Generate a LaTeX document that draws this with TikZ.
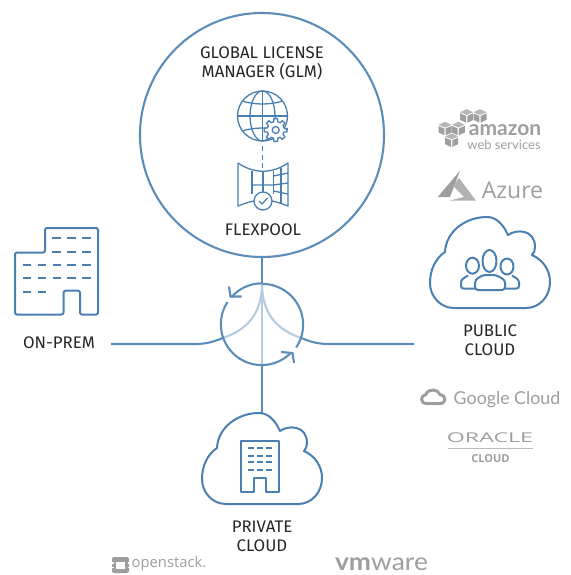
\documentclass[tikz,border=0pt]{standalone}
\usepackage{fontspec}
\setmainfont{Fira Sans}
\newfontfamily\logofont{Lato}
\newfontfamily\cloudfont{Open Sans}
\definecolor{lineblue}{HTML}{5B8DB8}
\definecolor{iconblue}{HTML}{4A7FB2}
\definecolor{paleblue}{HTML}{B5CCE0}
\definecolor{logogray}{HTML}{9C9EA0}
\tikzset{
	labeltext/.style={inner sep=0pt, align=center, text=black!85, font=\fontsize{16.8}{19}\selectfont},
	ringline/.style={draw=lineblue, line width=2.1pt},
	paleline/.style={draw=paleblue, line width=2.1pt},
	iconline/.style={draw=iconblue, line width=2pt, line join=round},
	thinline/.style={draw=iconblue, line width=1.3pt, line join=round},
	roomdash/.style={draw=iconblue, line width=2pt, dash pattern=on 8.7pt off 6.2pt},
	towerdash/.style={draw=iconblue, line width=1.8pt, dash pattern=on 6pt off 2.7pt},
	logotext/.style={inner sep=0pt, text=logogray}
}
\newcommand{\cloudicon}[2]{
	\draw[iconline, shift={(#1,#2)}] (-36,91) .. controls (-50,91) and (-60,79) .. (-60,66) .. controls (-60,52) and (-54,41) .. (-45,35) .. controls (-44,14) and (-24,0) .. (-3,0) .. controls (6,0) and (13,7) .. (18,18) .. controls (26,12) and (45,12) .. (45,30) .. controls (45,33) and (44,36) .. (42,38) .. controls (53,43) and (60,53) .. (60,65) .. controls (60,79) and (50,91) .. (36,91) -- cycle;
}
\newcommand{\awscube}[2]{
	\fill[logogray!75, shift={(#1,#2)}] (-6.5,-3.5) -- (0,-6.5) -- (6.5,-3.5) -- (0,-0.8) -- cycle;
	\fill[logogray, shift={(#1,#2)}] (-6.5,-2.3) -- (-0.6,0.2) -- (-0.6,7) -- (-6.5,4.2) -- cycle;
	\fill[logogray, shift={(#1,#2)}] (6.5,-2.3) -- (0.6,0.2) -- (0.6,7) -- (6.5,4.2) -- cycle;
}
\begin{document}
\begin{tikzpicture}[x=1pt,y=-1pt]

	\useasboundingbox (0,0) rectangle (570,575);

	%HUB AND MANAGER
	\node[circle, ringline, fill=white, inner sep=0pt, minimum size=244pt] (glm) at (262,135) {};
	\node[circle, inner sep=0pt, minimum size=82pt] (hub) at (262,324.5) {};
	\coordinate (onprem) at (111,344);
	\coordinate (public) at (414,344);
	\coordinate (private) at (262,413);

	%CONNECTORS
	\draw[paleline] (hub.north) -- (hub.south);
	\draw[paleline] (hub.north) .. controls (262,315) and (246,330) .. (hub.199);
	\draw[paleline] (hub.north) .. controls (262,315) and (278,330) .. (hub.341);
	\draw[ringline] (glm.south) -- (hub.north);
	\draw[ringline] (hub.south) -- (private);
	\draw[ringline] (hub.199) .. controls (214,341.5) and (207,344) .. (195,344) -- (onprem);
	\draw[ringline] (hub.341) .. controls (310,341.5) and (317,344) .. (329,344) -- (public);

	%HUB ARROWS
	\draw[ringline] (hub.90) arc[start angle=-90, end angle=-139, radius=40.8];
	\draw[ringline] (hub.147) arc[start angle=-147, end angle=-316, radius=40.8];
	\draw[ringline] (hub.326) arc[start angle=-326, end angle=-450, radius=40.8];
	\draw[ringline] (229,286.5) -- (230.5,296.5) -- (241.5,296.5);
	\draw[ringline] (281,352) -- (292.5,353) -- (294,363);

	%GLOBE
	\draw[thinline] (262.5,116) circle (25);
	\draw[thinline] (262.5,116) ellipse (12.5 and 25);
	\draw[thinline] (262.5,91) -- (262.5,141);
	\draw[thinline] (237.5,116) -- (287.5,116);
	\draw[thinline] (242,101) .. controls (255,105) and (270,105) .. (283,101);
	\draw[thinline] (242,131) .. controls (255,127) and (270,127) .. (283,131);
	\draw[thinline, fill=white, shift={(275.7,130)}] (0:11.5)
		\foreach \a in {0,45,...,315} { -- (\a-9:11.5) -- (\a+9:11.5) -- (\a+14:8.5) -- (\a+31:8.5) } -- cycle;
	\draw[thinline] (275.7,130) circle (3.5);
	\draw[thinline, dash pattern=on 5pt off 3.5pt] (262.5,146) -- (262.5,170);

	%POOL
	\draw[thinline] (238,163) .. controls (254,174) and (272,174) .. (288,163) -- (288,206) .. controls (283,204) and (277,202) .. (272,201);
	\draw[thinline] (238,163) -- (238,206) .. controls (243,204) and (249,202) .. (254,201);
	\draw[thinline] (252,171) -- (252,194);
	\draw[thinline] (263,172) -- (263,192);
	\draw[thinline] (273.5,171) -- (273.5,194);
	\draw[thinline] (281,168) -- (281,204);
	\draw[thinline] (252,185) -- (273.5,185) -- (288,183);
	\draw[thinline] (273.5,176) -- (288,173);
	\draw[thinline] (273.5,191) -- (288,194);
	\draw[thinline] (263,201) circle (9);
	\draw[thinline] (259,201) -- (262,204) -- (267.5,198);

	%ON-PREM
	\draw[iconline, rounded corners=2pt] (15,314.5) -- (15,252.5) -- (45,252.5) -- (45,228) -- (98,228) -- (98,314.5) -- (80,314.5) -- (80,290.7) -- (63.5,290.7) -- (63.5,314.5) -- cycle;
	\draw[roomdash] (52.3,238.3) -- (91,238.3);
	\draw[roomdash] (52.3,251.7) -- (91,251.7);
	\draw[roomdash] (22.7,265) -- (91,265);
	\draw[roomdash] (22.7,278.3) -- (91,278.3);
	\draw[roomdash] (22.7,291.7) -- (47,291.7);

	%PRIVATE CLOUD
	\cloudicon{262}{413}
	\draw[iconline] (241,492.3) -- (241,440.7) -- (279,440.7) -- (279,492.3) -- (265.7,492.3) -- (265.7,478.3) -- (254,478.3) -- (254,492.3) -- cycle;
	\foreach \yRow in {448.3,455.7,462.3,470} {
		\draw[towerdash] (248.3,\yRow) -- (272,\yRow);
	}

	%PUBLIC CLOUD
	\cloudicon{490}{217}
	\draw[iconline] (489.5,261) ellipse (7 and 11);
	\draw[iconline] (472.5,265.7) ellipse (6.5 and 8);
	\draw[iconline] (507,266.5) ellipse (6.5 and 8);
	\draw[iconline, fill=white, rounded corners=3pt] (475,290) -- (475,280) -- (483,275) -- (496,275) -- (505,280) -- (505,290) -- cycle;
	\draw[iconline, rounded corners=2.5pt] (475,288.5) -- (461,288.5) -- (461,280) -- (468,275.5);
	\draw[iconline, rounded corners=2.5pt] (505,288.5) -- (519,288.5) -- (519,280) -- (512,275.5);

	%LABELS
	\node[labeltext] (glmlabel) at (262,63.5) {GLOBAL LICENSE\\MANAGER (GLM)};
	\node[labeltext] (flexlabel) at (263,230) {FLEXPOOL};
	\node[labeltext] (onpremlabel) at (59,342.5) {ON-PREM};
	\node[labeltext] (publiclabel) at (490,340) {PUBLIC\\CLOUD};
	\node[labeltext] (privatelabel) at (262,536.5) {PRIVATE\\CLOUD};

	%AMAZON
	\awscube{466.7}{115.7}
	\awscube{480}{115.7}
	\awscube{445}{128.3}
	\awscube{458.3}{128.3}
	\awscube{451.7}{140}
	\node[logotext, anchor=base, font=\logofont\bfseries\fontsize{21}{21}\selectfont] (amazonlogo) at (505,135.5) {amazon};
	\node[logotext, anchor=base, font=\logofont\fontsize{13}{13}\selectfont] (awslogo) at (504,149.5) {web services};

	%AZURE
	\fill[logogray] (460,170.7) -- (437.7,197) -- (450,197) -- cycle;
	\fill[logogray!80] (459,178) -- (476,200.7) -- (449,200.7) -- (464,197) -- (453,186) -- cycle;
	\node[logotext, font=\cloudfont\fontsize{23}{23}\selectfont] (azurelogo) at (512.5,190) {Azure};

	%GOOGLE
	\draw[logogray, line width=3pt, line join=round] (426.5,403.5) .. controls (420,403.5) and (420,395.5) .. (426,394.5) .. controls (428,388) and (438,389) .. (440,394.5) .. controls (446,394.5) and (447,403.5) .. (440,403.5) -- cycle;
	\node[logotext, font=\logofont\fontsize{17.8}{18}\selectfont] (googlelogo) at (507,399.5) {Google Cloud};

	%ORACLE
	\node[logotext, font=\cloudfont\fontsize{13.5}{14}\selectfont, xscale=1.72] (oraclelogo) at (490,437.5) {ORACLE};
	\coordinate (oracleleft) at (447.5,448.5);
	\coordinate (oracleright) at (533,448.5);
	\draw[logogray!70, line width=0.8pt] (oracleleft) -- (oracleright);
	\node[logotext, font=\cloudfont\bfseries\fontsize{11}{11}\selectfont] (oraclecloud) at (490.5,459) {CLOUD};

	%OPENSTACK
	\fill[logogray, rounded corners=2pt] (112,557) rectangle (129,573);
	\fill[white] (116,561.5) rectangle (125,568.5);
	\fill[white] (111,562) rectangle (113.5,563.5);
	\fill[white] (111,566.5) rectangle (113.5,568);
	\fill[white] (127.5,562) rectangle (130,563.5);
	\fill[white] (127.5,566.5) rectangle (130,568);
	\node[logotext, font=\cloudfont\fontsize{14.8}{15}\selectfont] (stacklogo) at (169,564) {openstack.};

	%VMWARE
	\node[logotext, anchor=base, xscale=1.08, font=\logofont\fontsize{24.5}{25}\selectfont] (vmlogo) at (381.5,570) {\textbf{vm}ware};

\end{tikzpicture}
\end{document}
